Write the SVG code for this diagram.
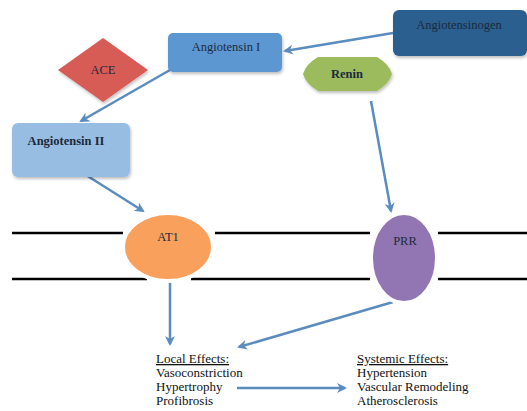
<svg xmlns="http://www.w3.org/2000/svg" width="527" height="411" viewBox="0 0 527 411">
<defs>
<marker id="ah" viewBox="0 0 10 10" refX="8" refY="5" markerWidth="4" markerHeight="4" orient="auto" markerUnits="strokeWidth">
<path d="M0,0 L10,5 L0,10 L3,5 Z" fill="#5a8cbf"/>
</marker>
<filter id="sh" x="-10%" y="-10%" width="130%" height="140%">
<feDropShadow dx="1" dy="2" stdDeviation="1.5" flood-color="#000" flood-opacity="0.25"/>
</filter>
</defs>
<style>
.t{font-family:"Liberation Serif","DejaVu Serif",serif;font-size:12.5px;fill:#1c2a3c;text-anchor:middle}
.b{font-weight:bold}
.e{font-family:"Liberation Serif","DejaVu Serif",serif;font-size:13px;fill:#111}
.c{fill:none;stroke:#5a8cbf;stroke-width:2.5;marker-end:url(#ah)}
.m{stroke:#000;stroke-width:2.5}
</style>
<rect width="527" height="411" fill="#fff"/>
<g id="membrane">
<line class="m" x1="12" y1="233" x2="123" y2="233"/>
<line class="m" x1="215" y1="233" x2="370" y2="233"/>
<line class="m" x1="438" y1="233" x2="527" y2="233"/>
<line class="m" x1="12" y1="279" x2="147" y2="279"/>
<line class="m" x1="191" y1="279" x2="370" y2="279"/>
<line class="m" x1="438" y1="279" x2="527" y2="279"/>
</g>
<g id="connectors">
<line class="c" x1="393" y1="33" x2="285" y2="51"/>
<line class="c" x1="170" y1="70" x2="81" y2="121"/>
<line class="c" x1="86" y1="175" x2="143" y2="211"/>
<line class="c" x1="371" y1="101" x2="391" y2="211"/>
<line class="c" x1="170" y1="282" x2="170" y2="344"/>
<line class="c" x1="393" y1="302" x2="239" y2="347"/>
<line class="c" x1="237" y1="388" x2="345" y2="388"/>
</g>
<g id="angiotensinogen">
<rect x="393" y="10" width="134" height="46" rx="6" fill="#2c5e90" filter="url(#sh)"/>
<text class="t" x="459" y="29">Angiotensinogen</text>
</g>
<g id="angiotensin1">
<rect x="168" y="33" width="114" height="39" rx="5" fill="#5b97d1" filter="url(#sh)"/>
<text class="t" x="226" y="51">Angiotensin I</text>
</g>
<g id="renin">
<path d="M303,74 Q306,64 318,57 L377,57 Q389,64 392,74 Q389,84 377,91 L318,91 Q306,84 303,74 Z" fill="#9cbb5c" filter="url(#sh)"/>
<text class="t b" x="347" y="78">Renin</text>
</g>
<g id="ace">
<path d="M103,38 L148,70 L103,102 L58,70 Z" fill="#d75b57" filter="url(#sh)"/>
<text class="t" x="103" y="74">ACE</text>
</g>
<g id="angiotensin2">
<rect x="12" y="123" width="118" height="54" rx="6" fill="#98bde3" filter="url(#sh)"/>
<text class="t b" x="66" y="145">Angiotensin II</text>
</g>
<g id="at1">
<ellipse cx="168" cy="247" rx="45" ry="34" fill="#f9a05d" stroke="#fff" stroke-width="4"/>
<text class="t" x="168" y="241">AT1</text>
</g>
<g id="prr">
<ellipse cx="404" cy="258" rx="33" ry="45" fill="#9276b3" stroke="#fff" stroke-width="4"/>
<text class="t" x="405" y="245">PRR</text>
</g>
<g id="local">
<text class="e" x="156" y="363" text-decoration="underline">Local Effects:</text>
<text class="e" x="156" y="377">Vasoconstriction</text>
<text class="e" x="156" y="391">Hypertrophy</text>
<text class="e" x="156" y="405">Profibrosis</text>
</g>
<g id="systemic">
<text class="e" x="357" y="363" text-decoration="underline">Systemic Effects:</text>
<text class="e" x="357" y="377">Hypertension</text>
<text class="e" x="357" y="391">Vascular Remodeling</text>
<text class="e" x="357" y="405">Atherosclerosis</text>
</g>
</svg>
